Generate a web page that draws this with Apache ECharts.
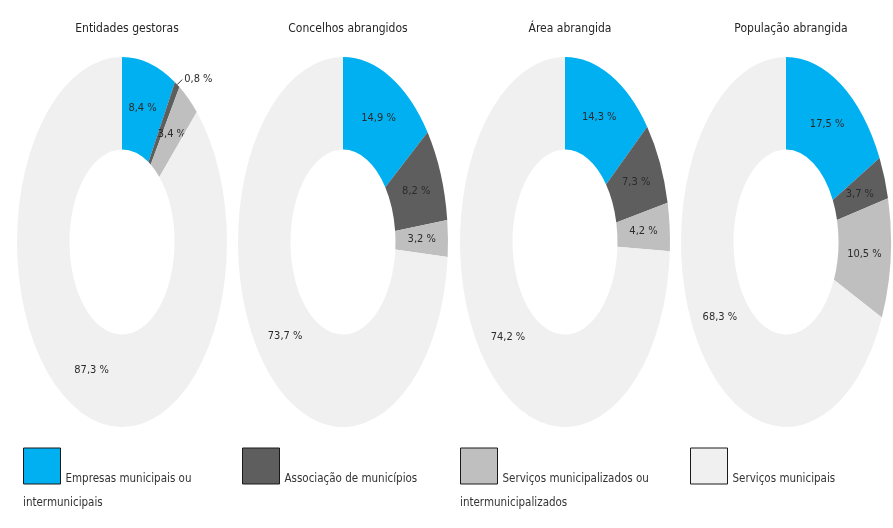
<!DOCTYPE html>
<html><head><meta charset="utf-8">
<script src="https://cdn.jsdelivr.net/npm/echarts@6/dist/echarts.min.js"></script>
<style>html,body{margin:0;padding:0;background:#fff}#c{width:893px;height:528px}</style>
</head><body><div id="c"></div>
<script>
// ---- data ----
const panelTitles = ['Entidades gestoras', 'Concelhos abrangidos', 'Área abrangida', 'População abrangida'];
const categories = ['Empresas municipais ou intermunicipais', 'Associação de municípios', 'Serviços municipalizados ou intermunicipalizados', 'Serviços municipais'];
const legendFirstLines = ['Empresas municipais ou', 'Associação de municípios', 'Serviços municipalizados ou', 'Serviços municipais'];
const legendSecondLines = ['intermunicipais', '', 'intermunicipalizados', ''];
const empresasMunicipais = [8.4, 14.9, 14.3, 17.5];
const associacaoMunicipios = [0.8, 8.2, 7.3, 3.7];
const servicosMunicipalizados = [3.4, 3.2, 4.2, 10.5];
const servicosMunicipais = [87.3, 73.7, 74.2, 68.3];
const seriesValues = [empresasMunicipais, associacaoMunicipios, servicosMunicipalizados, servicosMunicipais];
const colors = ['#00B0F0', '#5E5E5E', '#BFBFBF', '#F0F0F0'];

// ---- layout ----
const FONT = "'Liberation Sans Narrow','DejaVu Sans Condensed','Noto Sans',sans-serif";
const centersX = [122, 343, 565, 786];
const CY = 242, RX = 105, RY = 185, HOLE = 0.5, LABEL_R = 0.75;
const legendLefts = [23, 242, 460, 690];
const LEGEND_TOP = 440;

function fmt(v) { return v.toFixed(1).replace('.', ',') + ' %'; }

function makeRender(k) {
  return function (params, api) {
    const p = params.dataIndex;
    const value = api.value(1);
    let before = 0, total = 0;
    for (let j = 0; j < seriesValues.length; j++) {
      if (j < k) before += seriesValues[j][p];
      total += seriesValues[j][p];
    }
    const a0 = -Math.PI / 2 + before / total * 2 * Math.PI;
    const a1 = a0 + value / total * 2 * Math.PI;
    const am = (a0 + a1) / 2;
    const cx = centersX[p];
    const children = [{
      type: 'sector',
      x: cx, y: CY, scaleY: RY / RX,
      shape: { cx: 0, cy: 0, r: RX, r0: RX * HOLE, startAngle: a0, endAngle: a1, clockwise: true },
      style: { fill: api.visual('color') }
    }];
    const txtStyle = { fill: '#2b2b2b', font: '11px ' + FONT };
    if (value < 2) {
      const ox = cx + RX * Math.cos(am), oy = CY + RY * Math.sin(am);
      children.push({
        type: 'polyline',
        shape: { points: [[ox, oy], [ox + 5, oy - 5]] },
        style: { stroke: '#333', lineWidth: 1, fill: null }
      });
      children.push({
        type: 'text', x: ox + 7, y: oy - 5,
        style: Object.assign({ text: fmt(value), align: 'left', verticalAlign: 'middle' }, txtStyle)
      });
    } else {
      children.push({
        type: 'text',
        x: cx + RX * LABEL_R * Math.cos(am),
        y: CY + RY * LABEL_R * Math.sin(am),
        style: Object.assign({ text: fmt(value), align: 'center', verticalAlign: 'middle' }, txtStyle)
      });
    }
    return { type: 'group', children: children };
  };
}

const chart = echarts.init(document.getElementById('c'), null, { renderer: 'canvas' });
chart.setOption({
  animation: false,
  backgroundColor: '#ffffff',
  title: panelTitles.map((t, i) => ({
    text: t, left: centersX[i], top: 18, textAlign: 'center',
    textStyle: { fontSize: 12, fontWeight: 'normal', color: '#262626', fontFamily: FONT }
  })),
  legend: categories.map((name, k) => ({
    data: [name], left: legendLefts[k], top: LEGEND_TOP, orient: 'horizontal',
    icon: 'rect', itemWidth: 37, itemHeight: 36, selectedMode: false, padding: 0,
    itemStyle: { borderColor: '#1a1a1a', borderWidth: 1 },
    formatter: () => '\n' + legendFirstLines[k],
    textStyle: { fontFamily: FONT, fontSize: 11.5, color: '#333', lineHeight: 26 }
  })),
  graphic: legendSecondLines.map((t, k) => ({
    type: 'text', left: legendLefts[k], top: 497,
    style: { text: t, font: '11.5px ' + FONT, fill: '#333' }
  })),
  series: categories.map((name, k) => ({
    type: 'custom',
    name: name,
    coordinateSystem: 'none',
    itemStyle: { color: colors[k] },
    dimensions: ['panel', 'value'],
    data: seriesValues[k].map((v, i) => [i, v]),
    renderItem: makeRender(k)
  }))
});
</script>
</body></html>
